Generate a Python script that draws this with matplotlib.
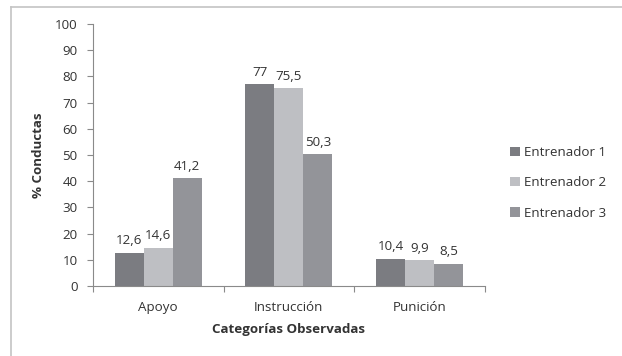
import numpy as np
import matplotlib
matplotlib.use("Agg")
import matplotlib.pyplot as plt
from matplotlib.lines import Line2D
from matplotlib.ticker import FixedLocator

categorias = ["Apoyo", "Instrucción", "Punición"]
series = ["Entrenador 1", "Entrenador 2", "Entrenador 3"]
entrenador1 = [12.6, 77, 10.4]
entrenador2 = [14.6, 75.5, 9.9]
entrenador3 = [41.2, 50.3, 8.5]
y_ticks = list(range(0, 101, 10))

colores = ["#7b7c81", "#bebfc3", "#939499"]
texto = "#333333"
eje = "#8a8a8a"

plt.rcParams['font.family'] = ['Open Sans', 'DejaVu Sans']
fs = 9.6

fig = plt.figure(figsize=(6.22, 3.56), dpi=100)
ax = fig.add_axes([0.1495, 0.1966, 0.630, 0.736])

x = np.arange(len(categorias))
w = 0.222
for i, (vals, nombre) in enumerate(zip([entrenador1, entrenador2, entrenador3], series)):
    pos = x + (i - 1) * w
    bars = ax.bar(pos, vals, width=w, color=colores[i], label=nombre, zorder=2)
    for b, v in zip(bars, vals):
        etiqueta = ("%g" % v).replace(".", ",")
        ax.annotate(etiqueta, (b.get_x() + b.get_width() / 2, v),
                    xytext=(0, 4), textcoords="offset points",
                    ha="center", va="bottom", fontsize=fs, color=texto)

ax.set_xlim(-0.5, 2.5)
ax.set_ylim(0, 100)
ax.set_yticks(y_ticks)
ax.set_xticks(x)
ax.set_xticklabels(categorias)
ax.xaxis.set_minor_locator(FixedLocator([-0.5, 0.5, 1.5, 2.5]))
ax.tick_params(axis="x", which="major", length=0, pad=11, labelsize=fs, labelcolor=texto)
ax.tick_params(axis="x", which="minor", length=4, color=eje, width=0.8)
ax.tick_params(axis="y", length=4, color=eje, width=0.8, labelsize=fs, labelcolor=texto, pad=7)

for s in ["top", "right"]:
    ax.spines[s].set_visible(False)
for s in ["left", "bottom"]:
    ax.spines[s].set_color(eje)
    ax.spines[s].set_linewidth(0.8)

ax.set_ylabel("% Conductas", fontsize=fs, fontweight="bold", color=texto, labelpad=7)
ax.set_xlabel("Categorías Observadas", fontsize=fs, fontweight="bold", color=texto, labelpad=6)

ax.legend(loc="center left", bbox_to_anchor=(0.81, 0.486), bbox_transform=fig.transFigure,
          frameon=False, fontsize=fs, labelcolor=texto, handlelength=0.7, handleheight=0.7,
          handletextpad=0.3, labelspacing=1.3, borderpad=0)

# outer frame (top and left edges)
fig.add_artist(Line2D([11 / 622, 1], [1 - 7 / 356, 1 - 7 / 356], transform=fig.transFigure,
                      color="#c4c4c4", lw=1.2))
fig.add_artist(Line2D([11 / 622, 11 / 622], [0, 1 - 7 / 356], transform=fig.transFigure,
                      color="#c4c4c4", lw=1.2))

fig.savefig("out.png", dpi=100, facecolor="white")
